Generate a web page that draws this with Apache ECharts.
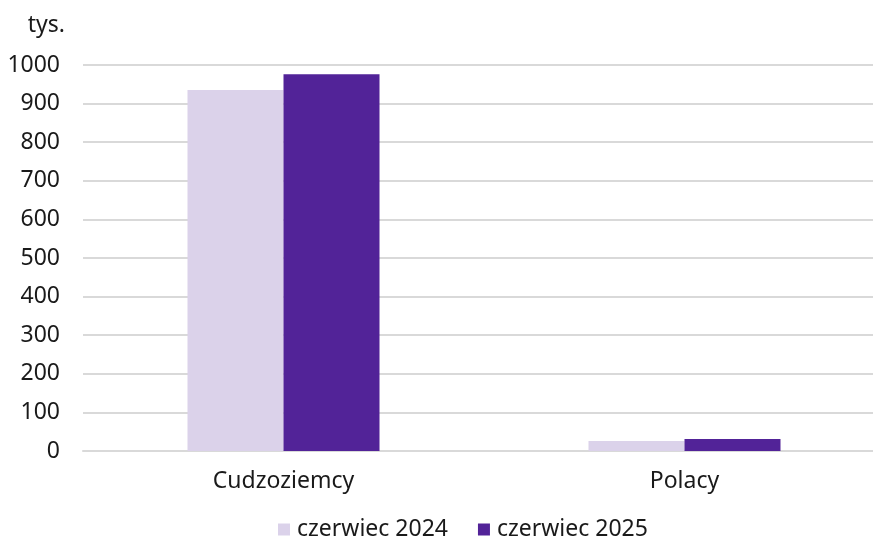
<!DOCTYPE html>
<html><head><meta charset="utf-8">
<script src="https://cdn.jsdelivr.net/npm/echarts@6/dist/echarts.min.js"></script>
<style>html,body{margin:0;padding:0;background:#fff}#c{width:873px;height:542px}</style>
</head><body><div id="c"></div>
<script>
const categories = ["Cudzoziemcy", "Polacy"];
const seriesNames = ["czerwiec 2024", "czerwiec 2025"];
const values2024 = [935, 26];
const values2025 = [976, 31];
const yTicks = [0, 100, 200, 300, 400, 500, 600, 700, 800, 900, 1000];
const unitLabel = "tys.";

const font = "Noto Sans";
const fs = 23;
const chart = echarts.init(document.getElementById('c'), null, {renderer: 'canvas'});
chart.setOption({
  animation: false,
  textStyle: {fontFamily: font},
  grid: {left: 83, top: 65, width: 802, height: 386, containLabel: false, outerBoundsMode: 'none'},
  legend: {
    left: 278, top: 518, padding: 0,
    itemWidth: 12, itemHeight: 12, itemGap: 30,
    icon: 'rect',
    textStyle: {fontFamily: font, fontSize: fs, color: '#1a1a1a', padding: [0, 0, 0, 2]},
    data: seriesNames
  },
  xAxis: {
    type: 'category', data: categories,
    axisLine: {show: true, lineStyle: {color: '#d9d9d9', width: 2}},
    axisTick: {show: false},
    axisLabel: {fontFamily: font, fontSize: fs, color: '#1a1a1a', margin: 19}
  },
  yAxis: {
    type: 'value', min: yTicks[0], max: yTicks[yTicks.length - 1], interval: 100,
    name: unitLabel, nameLocation: 'end', nameGap: 28,
    nameTextStyle: {fontFamily: font, fontSize: fs, color: '#1a1a1a', align: 'right', padding: [0, 18, 0, 0]},
    axisLine: {show: false}, axisTick: {show: false},
    splitLine: {lineStyle: {color: '#d9d9d9', width: 2}},
    axisLabel: {fontFamily: font, fontSize: fs, color: '#1a1a1a', margin: 23,
      formatter: function (v) { return String(v); }}
  },
  series: [
    {name: seriesNames[0], type: 'bar', data: values2024, barWidth: 96, barGap: '0%',
     itemStyle: {color: '#dbd2ea'}},
    {name: seriesNames[1], type: 'bar', data: values2025, barWidth: 96, barGap: '0%',
     itemStyle: {color: '#522398'}}
  ]
});
</script></body></html>
